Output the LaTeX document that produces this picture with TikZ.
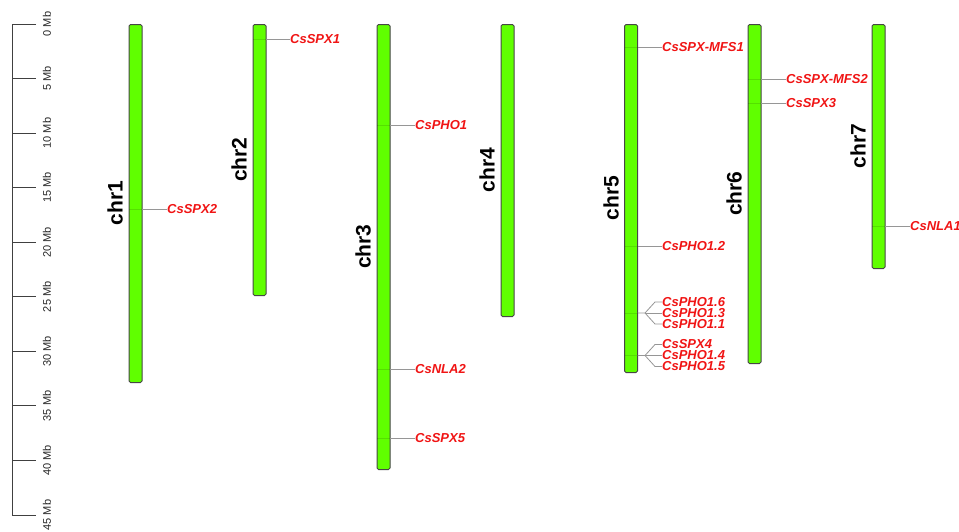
\documentclass[tikz,border=0pt]{standalone}
\usepackage{fontspec}
\setmainfont{Liberation Sans}
\definecolor{chrgreen}{RGB}{96,255,0}
\definecolor{chredge}{RGB}{70,70,70}
\definecolor{genered}{RGB}{240,20,20}
\definecolor{linkgray}{RGB}{150,150,150}
\tikzset{
  chrom/.style={draw=chredge, line width=1pt, fill=chrgreen, rounded corners=1.5pt,
    minimum width=13pt, inner sep=0pt, anchor=north},
  chrlabel/.style={rotate=90, anchor=south, inner sep=0pt, font=\bfseries\fontsize{21}{24}\selectfont},
  gene/.style={anchor=west, inner sep=0pt, text=genered, font=\bfseries\itshape\fontsize{13}{15}\selectfont},
  link/.style={draw=linkgray, line width=0.8pt},
  inlink/.style={draw=black, opacity=0.12, line width=0.8pt},
  scalelabel/.style={rotate=90, inner sep=0pt, text=black!85, font=\fontsize{11}{13}\selectfont},
  scaleline/.style={draw=black!75, line width=1pt}
}
\begin{document}
\begin{tikzpicture}[x=1pt,y=-1pt]
\useasboundingbox (0,0) rectangle (959,531);
% scale bar
\draw[scaleline] (36,24) -- (12,24) -- (12,515) -- (36,515);
\foreach \i in {1,...,8}{
  \draw[scaleline] (12,{24+\i*54.555}) -- (36,{24+\i*54.555});
}
\foreach \i in {0,...,9}{
  \pgfmathtruncatemacro{\mb}{5*\i}
  \node[scalelabel] (s\i) at (47,{24+\i*54.555}) {\mb\ Mb};
}
% chromosomes
\node[chrom, minimum height=358pt] (c1) at (135.5,24) {};
\node[chrom, minimum height=271pt] (c2) at (259.5,24) {};
\node[chrom, minimum height=445pt] (c3) at (383.5,24) {};
\node[chrom, minimum height=292pt] (c4) at (507.5,24) {};
\node[chrom, minimum height=348pt] (c5) at (631,24) {};
\node[chrom, minimum height=339pt] (c6) at (754.5,24) {};
\node[chrom, minimum height=244pt] (c7) at (878.5,24) {};
% chromosome labels
\node[chrlabel] (l1) at (123,203) {chr1};
\node[chrlabel] (l2) at (247,159.5) {chr2};
\node[chrlabel] (l3) at (371,246.5) {chr3};
\node[chrlabel] (l4) at (495,170) {chr4};
\node[chrlabel] (l5) at (619,198) {chr5};
\node[chrlabel] (l6) at (742,193.5) {chr6};
\node[chrlabel] (l7) at (866,146) {chr7};
% gene labels
\node[gene] (gSPX2) at (167,209) {CsSPX2};
\node[gene] (gSPX1) at (290,39) {CsSPX1};
\node[gene] (gPHO1) at (415,125) {CsPHO1};
\node[gene] (gNLA2) at (415,369) {CsNLA2};
\node[gene] (gSPX5) at (415,438) {CsSPX5};
\node[gene] (gMFS1) at (662,47) {CsSPX-MFS1};
\node[gene] (gPHO12) at (662,246) {CsPHO1.2};
\node[gene] (gPHO16) at (662,302) {CsPHO1.6};
\node[gene] (gPHO13) at (662,313) {CsPHO1.3};
\node[gene] (gPHO11) at (662,324) {CsPHO1.1};
\node[gene] (gSPX4) at (662,344.5) {CsSPX4};
\node[gene] (gPHO14) at (662,355.5) {CsPHO1.4};
\node[gene] (gPHO15) at (662,366.5) {CsPHO1.5};
\node[gene] (gMFS2) at (786,79) {CsSPX-MFS2};
\node[gene] (gSPX3) at (786,103) {CsSPX3};
\node[gene] (gNLA1) at (910,226) {CsNLA1};
% anchor points on chromosomes
\coordinate (a1) at (142,209);   \coordinate (b1) at (129,209);
\coordinate (a2) at (266,39);    \coordinate (b2) at (253,39);
\coordinate (a3) at (390,125);   \coordinate (b3) at (377,125);
\coordinate (a4) at (390,369);   \coordinate (b4) at (377,369);
\coordinate (a5) at (390,438);   \coordinate (b5) at (377,438);
\coordinate (a6) at (637.5,47);  \coordinate (b6) at (624.5,47);
\coordinate (a7) at (637.5,246); \coordinate (b7) at (624.5,246);
\coordinate (a8) at (637.5,313); \coordinate (b8) at (624.5,313);
\coordinate (a9) at (637.5,355.5); \coordinate (b9) at (624.5,355.5);
\coordinate (a10) at (761,79);   \coordinate (b10) at (748,79);
\coordinate (a11) at (761,103);  \coordinate (b11) at (748,103);
\coordinate (a12) at (885,226);  \coordinate (b12) at (872,226);
\coordinate (k8) at (645,313);
\coordinate (k9) at (645,355.5);
% faint marks inside chromosomes
\foreach \n in {1,...,12}{ \draw[inlink] (b\n) -- (a\n); }
% connectors
\draw[link] (a1) -- (gSPX2.west);
\draw[link] (a2) -- (gSPX1.west);
\draw[link] (a3) -- (gPHO1.west);
\draw[link] (a4) -- (gNLA2.west);
\draw[link] (a5) -- (gSPX5.west);
\draw[link] (a6) -- (gMFS1.west);
\draw[link] (a7) -- (gPHO12.west);
\draw[link] (a8) -- (k8) -- ([xshift=-7pt]gPHO16.west) -- (gPHO16.west);
\draw[link] (k8) -- (gPHO13.west);
\draw[link] (k8) -- ([xshift=-7pt]gPHO11.west) -- (gPHO11.west);
\draw[link] (a9) -- (k9) -- ([xshift=-7pt]gSPX4.west) -- (gSPX4.west);
\draw[link] (k9) -- (gPHO14.west);
\draw[link] (k9) -- ([xshift=-7pt]gPHO15.west) -- (gPHO15.west);
\draw[link] (a10) -- (gMFS2.west);
\draw[link] (a11) -- (gSPX3.west);
\draw[link] (a12) -- (gNLA1.west);
\end{tikzpicture}
\end{document}
